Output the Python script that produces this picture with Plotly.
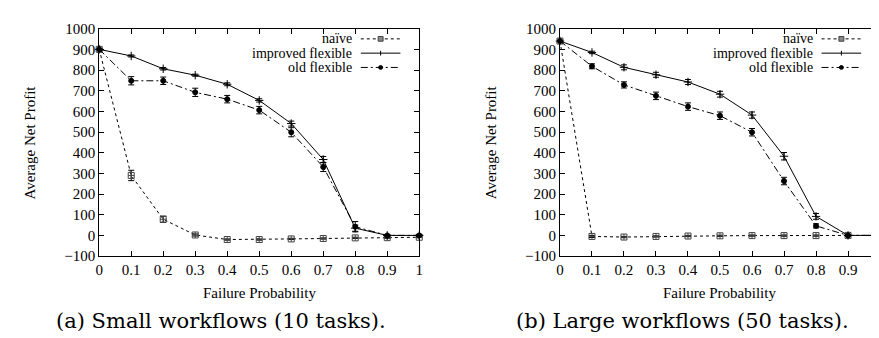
import plotly.graph_objects as go
from plotly.subplots import make_subplots

failure_prob = [0, 0.1, 0.2, 0.3, 0.4, 0.5, 0.6, 0.7, 0.8, 0.9, 1.0]

# (a) Small workflows (10 tasks)
small_naive = [900, 290, 78, 2, -20, -20, -17, -15, -12, -11, -9]
small_naive_err = [3, 25, 15, 5, 3, 3, 3, 3, 3, 3, 3]
small_improved = [900, 868, 806, 775, 731, 653, 541, 367, 35, 0, 0]
small_improved_err = [3, 5, 6, 5, 7, 8, 12, 15, 15, 3, 3]
small_old = [900, 748, 748, 692, 659, 606, 499, 331, 42, 0, 0]
small_old_err = [3, 20, 18, 20, 18, 18, 22, 22, 25, 3, 3]

# (b) Large workflows (50 tasks)
large_naive = [940, -5, -8, -5, -3, -2, -1, -1, -1, 0, 0]
large_naive_err = [3, 5, 3, 3, 3, 3, 3, 3, 3, 3, 3]
large_improved = [940, 885, 813, 777, 742, 683, 582, 383, 92, 0, 0]
large_improved_err = [3, 6, 12, 12, 12, 14, 15, 18, 14, 3, 3]
large_old = [940, 818, 728, 675, 623, 579, 499, 263, 46, 0, 0]
large_old_err = [3, 12, 15, 18, 18, 18, 18, 18, 10, 3, 3]

series_names = ["naïve", "improved flexible", "old flexible"]
captions = ["(a) Small workflows (10 tasks).", "(b) Large workflows (50 tasks)."]
x_title = "Failure Probability"
y_title = "Average Net Profit"
x_ticks = [0, 0.1, 0.2, 0.3, 0.4, 0.5, 0.6, 0.7, 0.8, 0.9, 1]
y_ticks = [-100, 0, 100, 200, 300, 400, 500, 600, 700, 800, 900, 1000]

SERIF = "Liberation Serif"
CAPTION_FONT = "DejaVu Serif"
W, H = 879, 338
fig = make_subplots(rows=1, cols=2)

styles = [
    dict(dash="3px,3px", symbol="square-cross-open", size=6, color="#444"),
    dict(dash="solid", symbol="cross-thin-open", size=6, color="black"),
    dict(dash="7px,3px,2px,3px", symbol="circle", size=5, color="black"),
]

panels = [
    [(small_naive, small_naive_err), (small_improved, small_improved_err), (small_old, small_old_err)],
    [(large_naive, large_naive_err), (large_improved, large_improved_err), (large_old, large_old_err)],
]

for col, panel in enumerate(panels, start=1):
    for (vals, errs), st, name in zip(panel, styles, series_names):
        fig.add_trace(go.Scatter(
            x=failure_prob, y=vals, mode="lines+markers", name=name, showlegend=False,
            line=dict(color="black", width=1, dash=st["dash"]),
            marker=dict(symbol=st["symbol"], size=st["size"], color=st["color"],
                        line=dict(color=st["color"], width=1)),
            error_y=dict(type="data", array=errs, visible=True, color="black", thickness=1, width=3),
            cliponaxis=False,
        ), row=1, col=col)

def px_x(p):
    return p / W

def px_y(p):
    return 1 - p / H

domains_px = [(88, 411), (553, 876)]
caption_cx = [211, 677]
y_dom = [px_y(252), px_y(13.3)]

axis_common = dict(
    showline=True, linecolor="black", linewidth=1, mirror="allticks",
    ticks="inside", ticklen=5, tickcolor="black", showgrid=False, zeroline=False,
    tickfont=dict(family=SERIF, size=15, color="black"),
)

for i, (l, r) in enumerate(domains_px, start=1):
    xa = "xaxis" if i == 1 else f"xaxis{i}"
    ya = "yaxis" if i == 1 else f"yaxis{i}"
    fig.layout[xa].update(domain=[px_x(l), px_x(r)], range=[0, 1], tickvals=x_ticks,
                          ticktext=[f"{t:g}" for t in x_ticks], **axis_common)
    fig.layout[ya].update(domain=y_dom, range=[-100, 1000], tickvals=y_ticks,
                          ticktext=[("\u2212100" if t < 0 else str(t)) for t in y_ticks], **axis_common)

annotations = []
shapes = []
for i, (l, r) in enumerate(domains_px):
    cx = (l + r) / 2
    annotations.append(dict(x=px_x(cx), y=px_y(291), xref="paper", yref="paper", text=x_title,
                            showarrow=False, font=dict(family=SERIF, size=15, color="black"),
                            xanchor="center", yanchor="middle"))
    annotations.append(dict(x=px_x(l - 70), y=px_y(133), xref="paper", yref="paper", text=y_title,
                            textangle=-90, showarrow=False,
                            font=dict(family=SERIF, size=15, color="black"),
                            xanchor="center", yanchor="middle"))
    annotations.append(dict(x=px_x(caption_cx[i]), y=px_y(320), xref="paper", yref="paper", text=captions[i],
                            showarrow=False, font=dict(family=CAPTION_FONT, size=21, color="black"),
                            xanchor="center", yanchor="middle"))
    # legend (gnuplot style: text right-aligned, sample to the right)
    for k, (name, st) in enumerate(zip(series_names, styles)):
        yy = 24 + 15 * k
        annotations.append(dict(x=px_x(r - 67), y=px_y(yy), xref="paper", yref="paper", text=name,
                                showarrow=False, font=dict(family=SERIF, size=14, color="black"),
                                xanchor="right", yanchor="middle", borderpad=0))
        shapes.append(dict(type="line", xref="paper", yref="paper",
                           x0=px_x(r - 59), x1=px_x(r - 19), y0=px_y(yy), y1=px_y(yy),
                           line=dict(color="black", width=1, dash=st["dash"])))
        mx = r - 39
        if k == 0:
            shapes.append(dict(type="rect", xref="paper", yref="paper",
                               x0=px_x(mx - 2.5), x1=px_x(mx + 2.5), y0=px_y(yy - 2.5), y1=px_y(yy + 2.5),
                               line=dict(color="#444", width=1), fillcolor="#888"))
        elif k == 2:
            shapes.append(dict(type="circle", xref="paper", yref="paper",
                               x0=px_x(mx - 2), x1=px_x(mx + 2), y0=px_y(yy - 2), y1=px_y(yy + 2),
                               line=dict(color="black", width=1), fillcolor="black"))
        else:
            shapes.append(dict(type="line", xref="paper", yref="paper",
                               x0=px_x(mx), x1=px_x(mx), y0=px_y(yy - 2.5), y1=px_y(yy + 2.5),
                               line=dict(color="black", width=1)))

fig.update_layout(
    width=W, height=H, margin=dict(l=0, r=0, t=0, b=0),
    plot_bgcolor="white", paper_bgcolor="white", showlegend=False,
    annotations=annotations, shapes=shapes,
)

fig.write_html("out.html")
